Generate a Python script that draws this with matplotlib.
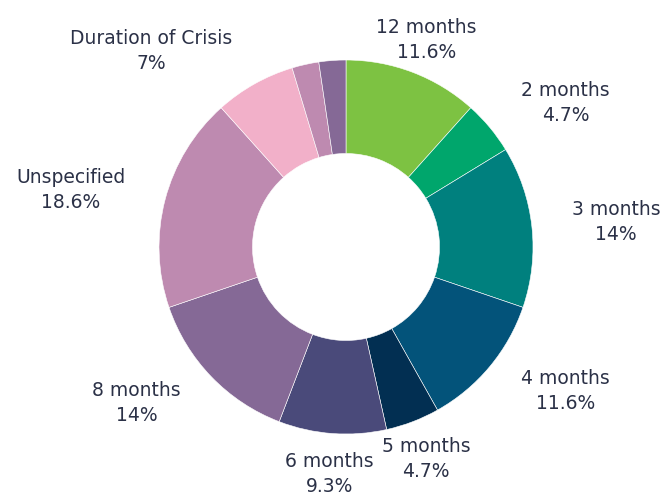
import numpy as np
import matplotlib
matplotlib.use("Agg")
import matplotlib.pyplot as plt

# slices, clockwise from 12 o'clock
labels = ["12 months", "2 months", "3 months", "4 months", "5 months",
          "6 months", "8 months", "Unspecified", "Duration of Crisis", "", ""]
pct_text = ["11.6%", "4.7%", "14%", "11.6%", "4.7%",
            "9.3%", "14%", "18.6%", "7%", "", ""]
counts = [5, 2, 6, 5, 2, 4, 6, 8, 3, 1, 1]
colors = ["#7dc242", "#00a66c", "#00807e", "#03537a", "#022f52",
          "#4a4a7a", "#856996", "#be8ab0", "#f2b0c9", "#be8ab0", "#856996"]

text_color = "#2b3147"

fig = plt.figure(figsize=(6.63, 4.92), dpi=100)
W, H = 663, 492
cx, cy, R = 346, 247, 187
ax = fig.add_axes([(cx - R) / W, (H - cy - R) / H, 2 * R / W, 2 * R / H])

wedges, _ = ax.pie(counts, colors=colors, startangle=90, counterclock=False,
                   radius=1.0, wedgeprops=dict(width=0.5, edgecolor="white", linewidth=0.4))
ax.set_xlim(-1, 1)
ax.set_ylim(-1, 1)
ax.axis("off")

for w, name, pct in zip(wedges, labels, pct_text):
    if not name:
        continue
    mid = np.deg2rad((w.theta1 + w.theta2) / 2)
    x, y = 1.2 * np.cos(mid), 1.2 * np.sin(mid)
    if np.cos(mid) > 0.4:
        ha = "left"
        x += 0.015
    elif np.cos(mid) < -0.4:
        ha = "right"
        x -= 0.02
    else:
        ha = "center"
        y -= 0.015
    ax.text(x, y, name + "\n" + pct, ha=ha, va="center", multialignment="center",
            fontsize=13.5, color=text_color, linespacing=1.4, clip_on=False)

fig.savefig("out.png", dpi=100)
